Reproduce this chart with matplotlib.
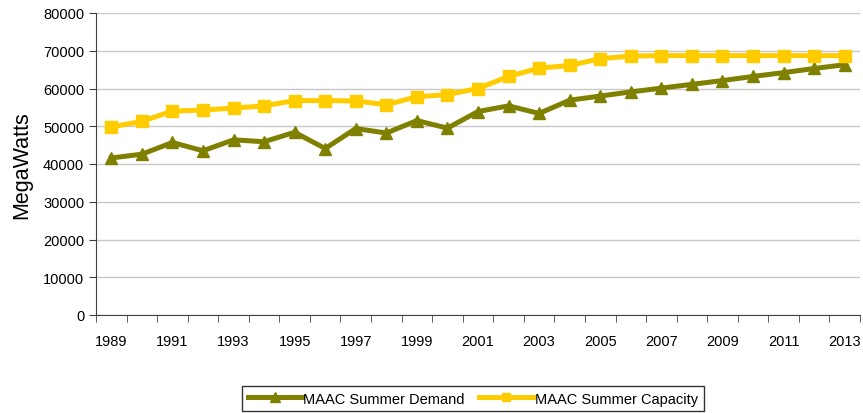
import numpy as np
import matplotlib
matplotlib.use("Agg")
import matplotlib.pyplot as plt

plt.rcParams['font.family'] = ['Liberation Sans', 'DejaVu Sans']

years = list(range(1989, 2014))
demand = [41600, 42600, 45700, 43500, 46400, 45900, 48400, 44100, 49400, 48200,
          51500, 49500, 53900, 55400, 53400, 56900, 58000, 59100, 60100, 61100,
          62100, 63200, 64200, 65300, 66300]
capacity = [49800, 51300, 54000, 54300, 54800, 55400, 56800, 56800, 56700, 55700,
            57800, 58400, 60000, 63200, 65400, 66100, 67900, 68600, 68700, 68700,
            68700, 68700, 68700, 68700, 68700]

fig = plt.figure(figsize=(8.63, 4.14), dpi=100)
ax = fig.add_axes([96 / 863, 98 / 414, 764 / 863, 302 / 414])

x = np.arange(len(years))
ax.plot(x, demand, color='#808000', lw=3.6, marker='^', ms=9,
        label='MAAC Summer Demand', zorder=3)
ax.plot(x, capacity, color='#FFCC00', lw=3.6, marker='s', ms=8.5,
        label='MAAC Summer Capacity', zorder=3)

ax.set_xlim(-0.5, len(years) - 0.5)
ax.set_ylim(0, 80000)
ax.set_yticks(np.arange(0, 80001, 10000))
ax.yaxis.grid(True, color='#C8C8C8', lw=1)
ax.set_axisbelow(True)

# category axis: tick marks between years, labels on every other year
ax.set_xticks(x[::2])
ax.set_xticklabels([str(y) for y in years[::2]])
ax.set_xticks(np.arange(-0.5, len(years)), minor=True)
ax.tick_params(axis='x', which='major', length=0, pad=14, labelsize=10.5)
ax.tick_params(axis='x', which='minor', length=5, color='#404040')
ax.tick_params(axis='y', length=5, color='#404040', labelsize=10.5)

for s in ['top', 'right']:
    ax.spines[s].set_visible(False)
for s in ['left', 'bottom']:
    ax.spines[s].set_color('#404040')

ax.set_ylabel('MegaWatts', fontsize=15.5, labelpad=8)

leg = ax.legend(loc='center', bbox_to_anchor=(0.548, 0.035),
                bbox_transform=fig.transFigure, ncol=2, fontsize=10.5,
                frameon=True, fancybox=False, edgecolor='black',
                handlelength=3.7, handletextpad=0.1, columnspacing=1.0,
                borderpad=0.4, markerscale=0.75)
leg.get_frame().set_linewidth(1)

fig.savefig('out.png', dpi=100)
